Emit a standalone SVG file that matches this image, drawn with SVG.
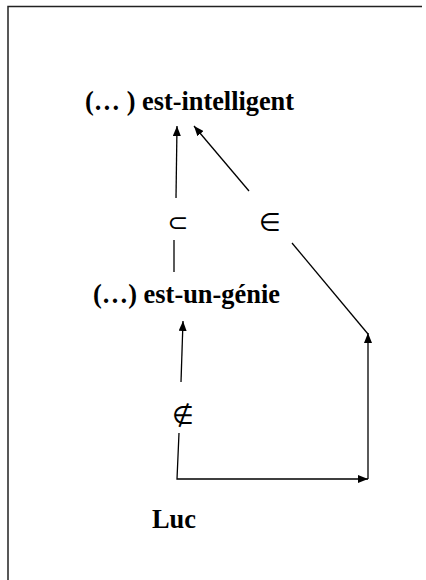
<svg xmlns="http://www.w3.org/2000/svg" width="426" height="580" viewBox="0 0 426 580">
<defs>
<marker id="ah" viewBox="0 0 10 8" refX="10" refY="4" markerWidth="10" markerHeight="8" markerUnits="userSpaceOnUse" orient="auto">
<path d="M0,0 L10,4 L0,8 Z" fill="#000"/>
</marker>
</defs>
<style>
.lbl{font-family:"Liberation Serif","Times New Roman",serif;font-weight:bold;font-size:27px;fill:#000}
.sym{font-family:"DejaVu Sans","Noto Sans",sans-serif;font-size:25px;fill:#000}
.ln{stroke:#000;stroke-width:1.3;fill:none}
.frame{stroke:#222;stroke-width:1.5;fill:none}
</style>
<g id="frame">
<path class="frame" d="M8,580 L8,6.5 L422,6.5"/>
</g>
<g id="connectors">
<line class="ln" x1="176" y1="198" x2="177" y2="126" marker-end="url(#ah)"/>
<line class="ln" x1="174" y1="272" x2="174" y2="240"/>
<line class="ln" x1="249" y1="191" x2="194" y2="126" marker-end="url(#ah)"/>
<line class="ln" x1="292" y1="243" x2="368" y2="334"/>
<line class="ln" x1="368" y1="479" x2="368" y2="333" marker-end="url(#ah)"/>
<polyline class="ln" points="179,433 177,479 368,479" marker-end="url(#ah)"/>
<line class="ln" x1="181" y1="382" x2="183" y2="321" marker-end="url(#ah)"/>
<text class="sym" x="178" y="231" text-anchor="middle">⊂</text>
<text class="sym" x="270" y="231" text-anchor="middle">∈</text>
<text class="sym" x="183" y="424" text-anchor="middle">∉</text>
</g>
<g id="node-intelligent">
<text class="lbl" x="85" y="110" textLength="209" lengthAdjust="spacingAndGlyphs">(… ) est-intelligent</text>
</g>
<g id="node-genie">
<text class="lbl" x="93" y="303" textLength="187" lengthAdjust="spacingAndGlyphs">(…) est-un-génie</text>
</g>
<g id="node-luc">
<text class="lbl" x="152" y="528" textLength="44" lengthAdjust="spacingAndGlyphs">Luc</text>
</g>
</svg>
